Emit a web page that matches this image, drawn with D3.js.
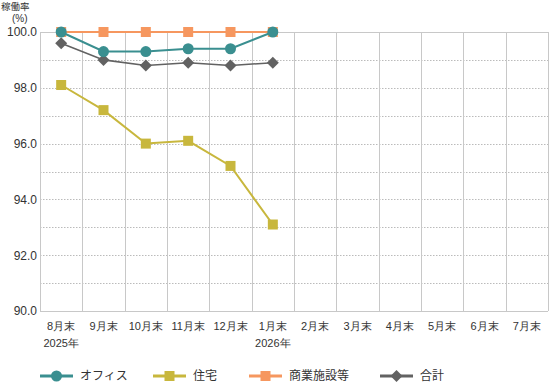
<!DOCTYPE html>
<html>
<head>
<meta charset="utf-8">
<script src="https://cdn.jsdelivr.net/npm/d3@7"></script>
<style>
body { margin: 0; background: #fff; }
svg { display: block; font-family: "Noto Sans CJK JP", sans-serif; }
.tick text { fill: #333; }
.grid-minor { stroke: #bbb; stroke-dasharray: 1.5,1.5; }
</style>
</head>
<body>
<div id="chart"></div>
<script>
// Data
const months = ["8月末", "9月末", "10月末", "11月末", "12月末", "1月末", "2月末", "3月末", "4月末", "5月末", "6月末", "7月末"];
const years = { "8月末": "2025年", "1月末": "2026年" };
const yTicks = [90, 92, 94, 96, 98, 100];
const office = [100.0, 99.3, 99.3, 99.4, 99.4, 100.0];
const housing = [98.1, 97.2, 96.0, 96.1, 95.2, 93.1];
const retail = [100.0, 100.0, 100.0, 100.0, 100.0, 100.0];
const total = [99.6, 99.0, 98.8, 98.9, 98.8, 98.9];

const series = [
    { name: "オフィス", values: office, color: "#3a8f90", marker: "circle", width: 2 },
    { name: "住宅", values: housing, color: "#c8b73d", marker: "square", width: 2 },
    { name: "商業施設等", values: retail, color: "#f6975f", marker: "square", width: 2 },
    { name: "合計", values: total, color: "#626262", marker: "diamond", width: 1.6 }
];

const W = 549, H = 383;
const margin = { top: 32, right: 1, bottom: 72, left: 40 };
const width = W - margin.left - margin.right;
const height = H - margin.top - margin.bottom;

const svg = d3.select("#chart").append("svg")
    .attr("width", W).attr("height", H);
const g = svg.append("g").attr("transform", `translate(${margin.left},${margin.top})`);

const x = d3.scaleBand().domain(months).range([0, width]);
const y = d3.scaleLinear().domain([90, 100]).range([height, 0]);

// minor dotted grid
g.selectAll(".grid-minor")
    .data(d3.range(91, 100))
    .enter().append("line")
    .attr("class", "grid-minor")
    .attr("x1", 0).attr("x2", width)
    .attr("y1", d => Math.round(y(d)) + 0.5).attr("y2", d => Math.round(y(d)) + 0.5);

// vertical grid lines
g.selectAll(".vgrid")
    .data(months.concat(["end"]))
    .enter().append("line")
    .attr("stroke", "#c8c8c8")
    .attr("x1", (d, i) => Math.round(i * x.step()) + 0.5)
    .attr("x2", (d, i) => Math.round(i * x.step()) + 0.5)
    .attr("y1", 0).attr("y2", height);

// top and bottom lines
[100, 90].forEach(v => {
    g.append("line").attr("stroke", "#c8c8c8")
        .attr("x1", 0).attr("x2", width)
        .attr("y1", Math.round(y(v)) + 0.5).attr("y2", Math.round(y(v)) + 0.5);
});

// y axis
const yAxis = g.append("g")
    .call(d3.axisLeft(y).tickValues(yTicks).tickFormat(d3.format(".1f")).tickSize(0).tickPadding(3));
yAxis.select(".domain").remove();
yAxis.selectAll("text")
    .style("font-family", "'Liberation Sans', Arial, sans-serif")
    .style("font-size", "12px");

// x axis
const xAxis = g.append("g")
    .attr("transform", `translate(0,${height})`)
    .call(d3.axisBottom(x).tickSize(0).tickPadding(11));
xAxis.select(".domain").remove();
xAxis.selectAll(".tick text").style("font-size", "11px");
xAxis.selectAll(".tick").filter(d => years[d])
    .append("text")
    .attr("y", 28).attr("dy", "0.71em")
    .attr("text-anchor", "middle")
    .attr("fill", "#333")
    .style("font-size", "11px")
    .text(d => years[d]);

// y axis title
svg.append("text").attr("x", 1).attr("y", 10).attr("fill", "#333")
    .style("font-size", "9.5px").text("稼働率");
svg.append("text").attr("x", 12).attr("y", 22).attr("fill", "#333")
    .style("font-family", "'Liberation Sans', Arial, sans-serif")
    .style("font-size", "10px").text("(%)");

function drawMarker(sel, s, cx, cy) {
    if (s.marker === "circle") {
        sel.append("circle").attr("cx", cx).attr("cy", cy).attr("r", 5.5).attr("fill", s.color);
    } else if (s.marker === "square") {
        sel.append("rect").attr("x", cx - 5).attr("y", cy - 5).attr("width", 10).attr("height", 10).attr("fill", s.color);
    } else {
        sel.append("path").attr("d", `M${cx},${cy - 6}L${cx + 6},${cy}L${cx},${cy + 6}L${cx - 6},${cy}Z`).attr("fill", s.color);
    }
}

const line = d3.line()
    .x((d, i) => x(months[i]) + x.bandwidth() / 2)
    .y(d => y(d));

// draw order: housing, retail, total, office
[series[1], series[2], series[3], series[0]].forEach(s => {
    const sg = g.append("g");
    sg.append("path").datum(s.values)
        .attr("fill", "none").attr("stroke", s.color).attr("stroke-width", s.width)
        .attr("d", line);
    s.values.forEach((v, i) => drawMarker(sg, s, x(months[i]) + x.bandwidth() / 2, y(v)));
});

// legend
const legendX = [40, 153, 249, 380];
const legendY = 376;
series.forEach((s, i) => {
    const lg = svg.append("g");
    lg.append("line").attr("x1", legendX[i]).attr("x2", legendX[i] + 33)
        .attr("y1", legendY).attr("y2", legendY)
        .attr("stroke", s.color).attr("stroke-width", 3);
    drawMarker(lg, s, legendX[i] + 16.5, legendY);
    lg.append("text").attr("x", legendX[i] + 40).attr("y", legendY).attr("dy", "0.35em")
        .attr("fill", "#333").style("font-size", "12px").text(s.name);
});
</script>
</body>
</html>
